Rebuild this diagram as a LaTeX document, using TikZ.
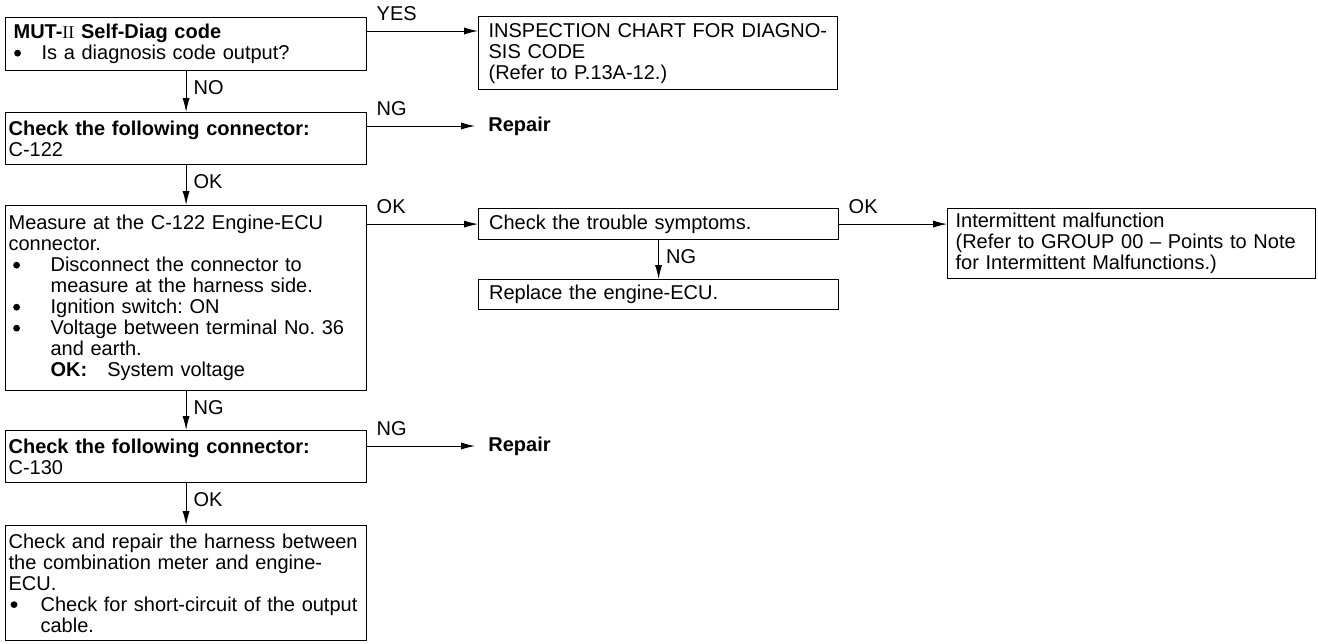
\documentclass[tikz,border=0pt]{standalone}
\usepackage{fontspec}
\setmainfont{Liberation Sans}
\newfontfamily\romfont{Liberation Serif}
\usetikzlibrary{arrows.meta}
\frenchspacing

% bullet line: indent, bullet offset, text
\newcommand{\dotmark}{\tikz[baseline=0pt]\fill (1.7pt,3.3pt) circle[radius=1.7pt];}
\newcommand{\itm}[3]{\makebox[#1][l]{\hspace{#2}\dotmark}#3}

\tikzset{
	stepbox/.style={rectangle,draw,line width=0.6pt,anchor=north west,align=left,inner ysep=0pt,inner xsep=1.5pt,text width=177.5pt,minimum width=180.5pt},
	sidebox/.style={stepbox,inner xsep=5pt,text width=169.5pt,minimum width=179.5pt},
	flow/.style={-{Latex[length=7pt,width=3.6pt]},line width=0.5pt},
	tag/.style={inner sep=0pt,anchor=south west,xshift=4.5pt,yshift=5pt},
	downtag/.style={inner sep=0pt,anchor=north west,xshift=3.5pt,yshift=-4.5pt},
	fix/.style={anchor=west,inner xsep=6.5pt,font=\fontsize{10}{10.5}\selectfont\bfseries},
}

\begin{document}
\begin{tikzpicture}[x=0.5pt,y=-0.5pt,font=\fontsize{10}{10.5}\selectfont]
	\fill[white] (0,0) rectangle (1318,643);

	\node[stepbox,minimum height=26.5pt,inner xsep=4pt,text width=172.5pt] (self) at (5,17) {\textbf{MUT-{\romfont\mdseries\fontsize{9}{9}\selectfont II} Self-Diag code}\\ \itm{14pt}{0.3pt}{Is a diagnosis code output?}};
	\node[stepbox,minimum height=26pt] (conA) at (5,112) {\textbf{Check the following connector:}\\C-122};
	\node[stepbox,minimum height=92.5pt] (meas) at (5,205) {Measure at the C-122 Engine-ECU\\connector.\\ \itm{21pt}{2.3pt}{Disconnect the connector to}\\ \hspace*{21pt}measure at the harness side.\\ \itm{21pt}{2.3pt}{Ignition switch: ON}\\ \itm{21pt}{2.3pt}{Voltage between terminal No. 36}\\ \hspace*{21pt}and earth.\\ \hspace*{21pt}\textbf{OK:}\hspace{10pt}System voltage};
	\node[stepbox,minimum height=26pt] (conB) at (5,430) {\textbf{Check the following connector:}\\C-130};
	\node[stepbox,minimum height=57.5pt] (harn) at (5,525) {Check and repair the harness between\\the combination meter and engine-\\ECU.\\ \itm{16pt}{1pt}{Check for short-circuit of the output}\\ \hspace*{16pt}cable.};

	\node[sidebox,minimum height=36.5pt] (insp) at (478,16) {INSPECTION CHART FOR DIAGNO-\\SIS CODE\\(Refer to P.13A-12.)};
	\node[sidebox,minimum height=15.5pt,minimum width=180pt] (symp) at (478,208) {Check the trouble symptoms.};
	\node[sidebox,minimum height=15pt,minimum width=180pt] (ecu) at (478,279) {Replace the engine-ECU.};
	\node[sidebox,minimum height=35pt,inner xsep=4pt,text width=176pt,minimum width=184pt] (interm) at (947,208) {Intermittent malfunction\\(Refer to GROUP 00 \textendash{} Points to Note\\for Intermittent Malfunctions.)};

	\node[fix] (fixA) at (475,126) {Repair};
	\node[fix] (fixB) at (475,446) {Repair};

	\coordinate (yes) at ([yshift=-7pt]self.north east);
	\draw[flow] (yes) -- node[pos=0,tag] {YES} (yes -| insp.west);
	\draw[flow] (self.south) -- node[pos=0,downtag] {NO} (conA.north);
	\coordinate (ngA) at ([yshift=-7pt]conA.north east);
	\draw[flow] (ngA) -- node[pos=0,tag] {NG} (ngA -| fixA.west);
	\draw[flow] (conA.south) -- node[pos=0,downtag] {OK} (meas.north);
	\draw[flow] (symp.west -| meas.east) -- node[pos=0,tag] {OK} (symp.west);
	\draw[flow] (symp.east) -- node[pos=0,tag] {OK} (symp.east -| interm.west);
	\draw[flow] (symp.south) -- node[pos=0,downtag] {NG} (ecu.north);
	\draw[flow] (meas.south) -- node[pos=0,downtag] {NG} (conB.north);
	\coordinate (ngB) at ([yshift=-8pt]conB.north east);
	\draw[flow] (ngB) -- node[pos=0,tag] {NG} (ngB -| fixB.west);
	\draw[flow] (conB.south) -- node[pos=0,downtag] {OK} (harn.north);
\end{tikzpicture}
\end{document}
